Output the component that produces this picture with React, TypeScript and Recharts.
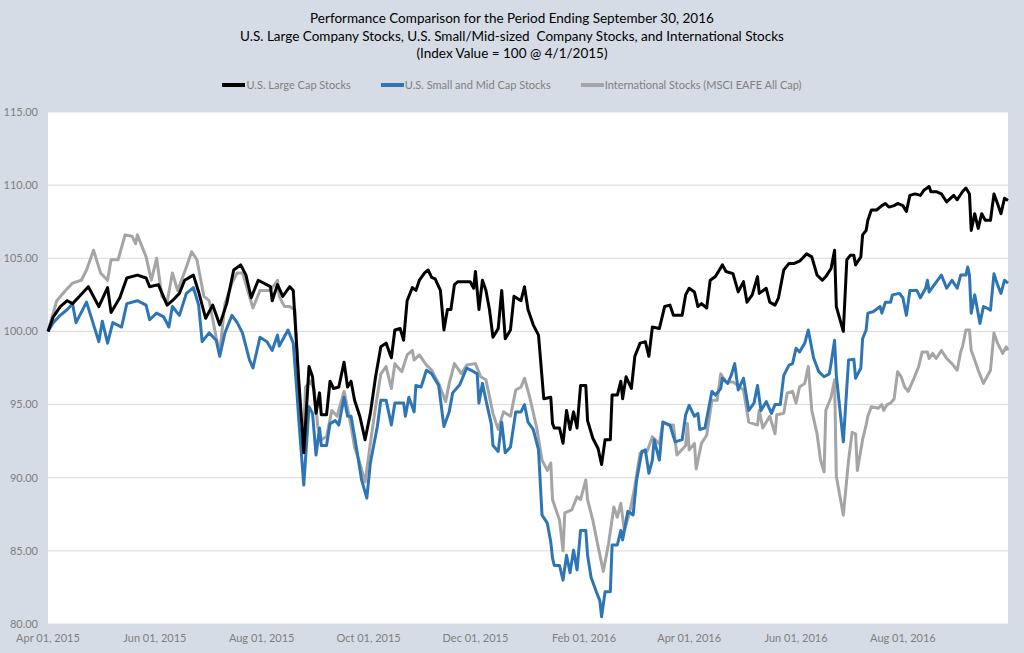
import { CartesianGrid, Line, LineChart, XAxis, YAxis } from 'recharts'

// days counted from 2015-04-01
const largeCapDays = [
  0, 3, 7, 11, 14, 18, 23, 29, 34, 36, 41, 45, 51, 56, 58, 63, 68, 71, 75, 78, 83, 86, 90, 94, 98,
  102, 106, 110, 113, 116, 120, 127, 128, 131, 134, 138, 140, 143, 145, 146, 149, 151, 153, 155,
  156, 159, 161, 163, 166, 169, 171, 173, 175, 178, 181, 184, 187, 190, 193, 196, 198, 201, 203,
  205, 208, 210, 212, 215, 217, 219, 221, 224, 226, 228, 230, 232, 234, 241, 243, 244, 246, 248,
  250, 252, 254, 257, 259, 261, 264, 266, 270, 272, 274, 277, 280, 283, 287, 288, 289, 292, 294,
  296, 298, 300, 302, 304, 307, 308, 311, 314, 316, 318, 321, 322, 325, 327, 328, 330, 333, 335,
  338, 341, 343, 345, 349, 352, 355, 357, 362, 364, 366, 369, 371, 373, 376, 378, 381, 385, 387,
  391, 394, 397, 399, 402, 405, 406, 410, 412, 415, 417, 420, 423, 426, 429, 433, 436, 439, 442,
  444, 447, 449, 450, 454, 456, 458, 460, 461, 464, 465, 467, 468, 470, 473, 476, 478, 480, 483,
  485, 488, 490, 492, 495, 498, 500, 503, 504, 507, 510, 513, 517, 519, 522, 524, 526, 527, 529,
  531, 533, 535, 538, 540, 542, 544, 546, 548,
]
const largeCapValues = [
  100.0, 101.0, 101.7, 102.1, 101.9, 102.4, 103.06, 101.7, 103.0, 101.3, 102.3, 103.65, 103.85,
  103.65, 103.06, 103.2, 101.8, 102.1, 102.6, 103.5, 103.85, 102.7, 100.9, 101.8, 100.45, 101.9,
  104.2, 104.55, 103.85, 102.3, 103.5, 103.06, 102.1, 103.2, 102.4, 103.06, 102.8, 96.9, 93.5,
  91.7, 97.6, 96.9, 94.4, 95.8, 94.3, 94.3, 96.6, 96.1, 96.2, 97.9, 96.2, 96.6, 95.3, 94.2, 92.6,
  94.4, 96.9, 98.95, 99.2, 98.2, 100.1, 100.2, 99.4, 102.1, 103.0, 102.8, 103.5, 104.0, 104.2,
  103.7, 103.6, 102.8, 100.1, 101.5, 101.5, 103.2, 103.4, 103.4, 102.95, 104.1, 101.5, 103.5,
  102.8, 101.5, 99.6, 100.2, 102.8, 99.5, 100.1, 102.4, 102.1, 103.05, 101.5, 100.45, 99.75, 95.4,
  95.5, 93.7, 93.4, 93.4, 92.35, 94.6, 93.3, 94.5, 93.4, 96.3, 96.3, 93.9, 92.7, 92.0, 90.9, 92.6,
  92.6, 95.65, 95.65, 96.6, 95.4, 96.9, 96.1, 98.3, 99.2, 99.3, 98.3, 100.3, 100.2, 101.7, 101.8,
  101.1, 101.1, 102.5, 102.95, 102.7, 101.7, 101.9, 101.6, 103.5, 103.75, 104.55, 104.1, 103.95,
  102.7, 103.4, 102.0, 102.5, 103.75, 102.6, 102.95, 102.0, 101.8, 102.3, 104.2, 104.65, 104.65,
  104.8, 105.3, 105.1, 103.85, 103.5, 103.75, 104.3, 105.55, 101.7, 100.0, 104.9, 105.2, 105.2,
  104.55, 105.1, 106.6, 106.9, 107.6, 108.3, 108.3, 108.6, 108.75, 108.5, 108.6, 108.75, 108.6,
  108.2, 109.3, 109.4, 109.3, 109.65, 109.9, 109.55, 109.55, 109.4, 108.85, 109.3, 109.0, 109.55,
  109.8, 109.4, 106.9, 108.05, 107.05, 108.05, 107.6, 107.6, 109.4, 108.75, 108.05, 109.1, 108.95,
]

const smallMidDays = [
  0, 3, 7, 11, 14, 16, 22, 29, 31, 34, 37, 42, 45, 51, 56, 58, 62, 66, 69, 71, 75, 79, 83, 86, 88,
  92, 96, 98, 101, 105, 108, 111, 115, 117, 121, 125, 128, 131, 132, 137, 140, 142, 143, 146, 149,
  151, 153, 155, 156, 159, 161, 164, 166, 169, 171, 173, 176, 179, 182, 184, 188, 190, 193, 196,
  198, 203, 204, 206, 209, 210, 213, 216, 219, 223, 226, 229, 231, 235, 239, 243, 245, 246, 248,
  250, 253, 254, 257, 259, 261, 264, 267, 270, 272, 274, 277, 280, 282, 285, 287, 288, 289, 292,
  294, 296, 298, 300, 302, 304, 307, 308, 310, 313, 315, 316, 318, 321, 322, 325, 327, 328, 331,
  334, 336, 339, 341, 343, 345, 346, 349, 351, 355, 358, 362, 364, 366, 369, 371, 372, 375, 379,
  381, 384, 385, 388, 390, 392, 394, 397, 400, 403, 405, 407, 410, 413, 415, 418, 420, 423, 425,
  427, 429, 432, 434, 437, 440, 443, 446, 447, 449, 450, 454, 457, 460, 461, 464, 465, 467, 468,
  471, 475, 476, 478, 481, 482, 486, 488, 490, 492, 496, 498, 501, 502, 503, 506, 510, 513, 516,
  519, 521, 524, 525, 526, 527, 529, 532, 534, 536, 538, 540, 542, 544, 546, 548,
]
const smallMidValues = [
  100.0, 100.6, 101.1, 101.5, 101.9, 100.6, 102.0, 99.3, 100.7, 99.2, 100.6, 100.3, 101.9, 102.1,
  101.8, 100.8, 101.25, 101.0, 100.3, 101.7, 101.1, 102.6, 103.0, 101.8, 99.3, 99.9, 99.4, 98.3,
  99.9, 101.1, 100.6, 99.9, 98.05, 97.5, 99.6, 99.3, 98.7, 99.75, 99.0, 100.1, 99.2, 96.0, 94.2,
  89.5, 94.85, 94.4, 91.55, 93.4, 92.2, 92.2, 93.7, 93.9, 93.6, 95.5, 94.2, 94.2, 92.1, 89.85,
  88.6, 91.0, 93.5, 95.3, 95.3, 93.6, 95.1, 95.1, 94.2, 95.5, 94.5, 96.3, 96.2, 97.35, 97.1, 96.3,
  93.5, 94.5, 95.8, 96.35, 97.5, 97.25, 97.1, 95.1, 96.45, 95.3, 93.7, 92.2, 91.8, 93.8, 91.7,
  92.1, 94.5, 94.5, 95.0, 93.8, 93.3, 91.9, 87.45, 86.9, 85.6, 84.5, 84.0, 84.0, 83.0, 84.7, 83.5,
  85.05, 83.7, 86.4, 86.4, 84.7, 83.2, 82.2, 81.6, 80.5, 82.2, 82.2, 85.4, 85.4, 86.4, 85.75,
  87.7, 87.45, 89.85, 91.8, 91.9, 90.3, 91.2, 92.6, 91.2, 93.8, 93.6, 92.45, 92.6, 94.3, 94.95,
  94.2, 94.4, 93.3, 93.4, 95.9, 95.65, 96.1, 96.8, 96.45, 97.0, 97.8, 96.0, 96.8, 94.6, 95.1, 96.3,
  94.6, 95.2, 94.4, 95.0, 95.0, 97.0, 97.7, 97.8, 98.85, 98.6, 99.2, 100.1, 98.2, 97.25, 96.9,
  97.1, 97.8, 99.4, 97.0, 92.45, 98.05, 98.1, 96.8, 97.5, 99.5, 100.1, 101.25, 101.35, 101.7,
  101.25, 102.0, 102.0, 102.5, 102.6, 102.3, 101.1, 102.8, 102.8, 102.3, 102.95, 103.5, 102.7,
  103.2, 103.85, 102.95, 103.5, 102.95, 103.85, 103.85, 104.4, 103.85, 101.25, 102.5, 100.55,
  101.7, 101.6, 101.45, 103.95, 103.2, 102.6, 103.5, 103.3,
]

const intlDays = [
  0, 5, 10, 14, 19, 22, 26, 30, 34, 36, 40, 44, 48, 50, 51, 53, 56, 59, 62, 65, 68, 71, 74, 79, 82,
  85, 89, 92, 96, 98, 101, 105, 108, 111, 117, 121, 127, 131, 132, 135, 138, 141, 144, 146, 147,
  150, 152, 154, 156, 159, 162, 165, 169, 171, 173, 175, 178, 181, 184, 187, 190, 193, 196, 198,
  202, 205, 208, 209, 212, 216, 219, 223, 227, 229, 232, 236, 239, 244, 247, 250, 254, 257, 260,
  264, 267, 270, 272, 275, 279, 282, 285, 287, 288, 292, 294, 295, 299, 302, 304, 307, 308, 311,
  314, 317, 320, 323, 325, 327, 329, 332, 335, 338, 342, 345, 349, 351, 354, 357, 359, 364, 365,
  366, 369, 370, 373, 376, 379, 382, 384, 387, 391, 397, 400, 405, 406, 408, 412, 415, 416, 420,
  422, 425, 427, 429, 432, 434, 436, 439, 441, 443, 444, 447, 449, 450, 454, 457, 459, 461, 462,
  465, 467, 468, 470, 474, 476, 477, 479, 481, 483, 485, 487, 489, 491, 494, 497, 499, 502, 503,
  505, 507, 510, 513, 516, 519, 521, 522, 524, 526, 527, 529, 531, 534, 536, 538, 540, 542, 545,
  547, 548,
]
const intlValues = [
  100.0, 102.1, 102.8, 103.3, 103.5, 104.2, 105.55, 104.0, 103.5, 104.9, 104.9, 106.6, 106.5,
  106.0, 106.6, 106.0, 105.1, 103.5, 105.0, 102.4, 102.0, 104.0, 102.8, 104.4, 105.45, 104.9,
  102.4, 102.1, 99.6, 98.5, 101.9, 103.3, 104.0, 104.0, 101.6, 102.8, 102.8, 103.5, 102.4, 101.7,
  101.7, 101.45, 94.2, 93.3, 96.2, 96.6, 96.0, 93.5, 92.6, 92.8, 94.6, 94.2, 95.9, 94.75, 93.5,
  92.1, 91.0, 89.7, 92.35, 94.85, 97.1, 97.6, 96.1, 97.8, 97.25, 98.4, 98.7, 98.05, 98.4, 97.7,
  97.35, 96.45, 95.2, 96.45, 97.8, 97.1, 97.7, 97.8, 96.9, 96.7, 94.4, 93.3, 94.5, 94.2, 96.0,
  96.2, 96.8, 95.5, 93.4, 91.2, 90.5, 91.0, 88.5, 87.1, 85.0, 87.6, 87.8, 88.7, 88.5, 89.85, 88.5,
  87.1, 85.3, 83.6, 85.5, 88.0, 87.3, 88.25, 86.4, 87.6, 89.4, 91.7, 91.8, 92.8, 92.3, 93.8, 93.6,
  93.6, 91.55, 92.2, 93.7, 91.9, 92.35, 90.6, 92.35, 92.9, 95.3, 95.3, 97.1, 96.55, 96.55, 96.0,
  93.8, 93.6, 94.6, 93.4, 94.2, 93.0, 94.3, 94.4, 95.8, 95.9, 95.1, 96.2, 96.45, 97.6, 94.6, 93.0,
  91.2, 90.4, 94.6, 95.5, 96.7, 90.1, 87.45, 91.2, 93.1, 93.0, 90.5, 92.6, 93.6, 94.2, 94.85,
  94.75, 95.0, 94.6, 95.0, 95.1, 95.4, 97.25, 96.9, 96.2, 95.9, 96.7, 97.6, 98.6, 98.6, 98.15,
  98.5, 98.15, 98.7, 98.15, 97.8, 97.35, 98.6, 98.95, 100.1, 100.1, 98.7, 98.05, 97.35, 96.45,
  96.9, 97.35, 99.9, 99.2, 98.5, 98.95, 98.7,
]

const startDate = '2015-04-01'
const endDate = '2016-09-30'
const tickDates = [
  '2015-04-01', '2015-06-01', '2015-08-01', '2015-10-01', '2015-12-01',
  '2016-02-01', '2016-04-01', '2016-06-01', '2016-08-01',
]
const tickLabels = [
  'Apr 01, 2015', 'Jun 01, 2015', 'Aug 01, 2015', 'Oct 01, 2015', 'Dec 01, 2015',
  'Feb 01, 2016', 'Apr 01, 2016', 'Jun 01, 2016', 'Aug 01, 2016',
]
const yTicks = [80, 85, 90, 95, 100, 105, 110, 115]

const seriesNames = [
  'U.S. Large Cap Stocks',
  'U.S. Small and Mid Cap Stocks',
  'International Stocks (MSCI EAFE All Cap)',
]
const seriesColors = ['#000000', '#2e75b6', '#a5a5a5']

const dayOf = (iso: string) =>
  Math.round((Date.parse(iso) - Date.parse(startDate)) / 86400000)

const tickDays = tickDates.map(dayOf)
const lastDay = dayOf(endDate)

// one row per day that any series has a value for
const byDay = new Map<number, { day: number; large?: number; small?: number; intl?: number }>()
const addSeries = (days: number[], values: number[], key: 'large' | 'small' | 'intl') => {
  days.forEach((d, i) => {
    const row = byDay.get(d) ?? { day: d }
    row[key] = values[i]
    byDay.set(d, row)
  })
}
addSeries(largeCapDays, largeCapValues, 'large')
addSeries(smallMidDays, smallMidValues, 'small')
addSeries(intlDays, intlValues, 'intl')
const chartData = [...byDay.values()].sort((a, b) => a.day - b.day)

const font = 'Lato, "Noto Sans", sans-serif'

export default function App() {
  return (
    <div
      style={{
        position: 'absolute',
        left: 0,
        top: 0,
        width: 1024,
        height: 653,
        background: '#d6dce5',
        fontFamily: font,
      }}
    >
      <div
        style={{
          position: 'absolute',
          top: 10,
          width: 1024,
          textAlign: 'center',
          fontSize: 13.5,
          lineHeight: '17.5px',
          color: '#000',
        }}
      >
        <div>Performance Comparison for the Period Ending September 30, 2016</div>
        <div>U.S. Large Company Stocks, U.S. Small/Mid-sized&nbsp; Company Stocks, and International Stocks</div>
        <div>(Index Value = 100 @ 4/1/2015)</div>
      </div>
      <div
        style={{
          position: 'absolute',
          top: 78,
          width: 1024,
          display: 'flex',
          justifyContent: 'center',
          gap: 30,
          fontSize: 11,
          color: '#7f7f7f',
        }}
      >
        {seriesNames.map((name, i) => (
          <div key={name} style={{ display: 'flex', alignItems: 'center' }}>
            <span
              style={{
                display: 'inline-block',
                width: 23,
                height: 4,
                background: seriesColors[i],
                marginRight: 1,
              }}
            />
            {name}
          </div>
        ))}
      </div>
      <LineChart
        width={1024}
        height={653}
        data={chartData}
        margin={{ top: 112, right: 16, bottom: 0, left: 0 }}
        style={{ position: 'absolute', left: 0, top: 0 }}
      >
        <CartesianGrid vertical={false} stroke="#d9d9d9" fill="#ffffff" />
        <XAxis
          dataKey="day"
          type="number"
          domain={[0, lastDay]}
          ticks={tickDays}
          tickFormatter={(d: number) => tickLabels[tickDays.indexOf(d)] ?? ''}
          axisLine={false}
          tickLine={false}
          tickSize={0}
          tickMargin={10}
          height={29}
          interval={0}
          tick={{ fill: '#7f7f7f', fontSize: 11, fontFamily: font }}
        />
        <YAxis
          type="number"
          domain={[80, 115]}
          ticks={yTicks}
          tickFormatter={(v: number) => v.toFixed(2)}
          axisLine={false}
          tickLine={false}
          tickSize={0}
          tickMargin={10}
          width={48}
          interval={0}
          tick={{ fill: '#7f7f7f', fontSize: 11, fontFamily: font }}
        />
        <Line
          dataKey="intl"
          stroke={seriesColors[2]}
          strokeWidth={3}
          dot={false}
          connectNulls
          isAnimationActive={false}
          strokeLinejoin="round"
        />
        <Line
          dataKey="small"
          stroke={seriesColors[1]}
          strokeWidth={3}
          dot={false}
          connectNulls
          isAnimationActive={false}
          strokeLinejoin="round"
        />
        <Line
          dataKey="large"
          stroke={seriesColors[0]}
          strokeWidth={3}
          dot={false}
          connectNulls
          isAnimationActive={false}
          strokeLinejoin="round"
        />
      </LineChart>
    </div>
  )
}
